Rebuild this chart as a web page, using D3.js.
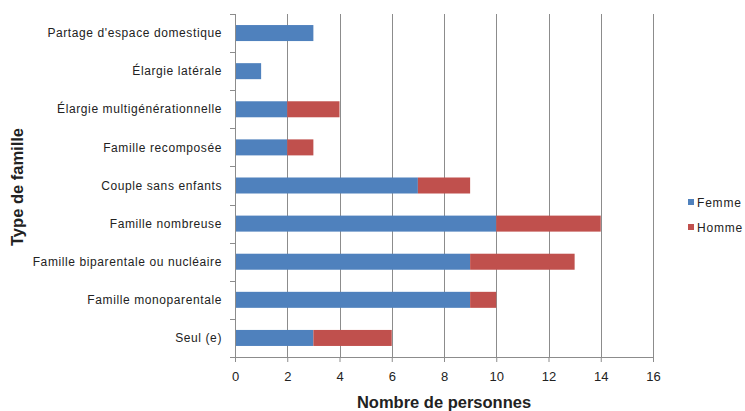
<!DOCTYPE html>
<html>
<head>
<meta charset="utf-8">
<script src="https://cdn.jsdelivr.net/npm/d3@7"></script>
<style>
  body { margin: 0; background: #fff; }
  .chart-holder text { font-family: "Liberation Sans", Arial, sans-serif; }
</style>
</head>
<body>
<div class="chart-holder"></div>
<script>
const width = 745, height = 411;

const categories = ["Partage d'espace domestique", "Élargie latérale", "Élargie multigénérationnelle",
  "Famille recomposée", "Couple sans enfants", "Famille nombreuse",
  "Famille biparentale ou nucléaire", "Famille monoparentale", "Seul (e)"];
const femme = [3, 1, 2, 2, 7, 10, 9, 9, 3];
const homme = [0, 0, 2, 1, 2, 4, 4, 1, 3];
const seriesNames = ["Femme", "Homme"];
const colors = ["#4F81BD", "#C0504D"];
const xTicks = [0, 2, 4, 6, 8, 10, 12, 14, 16];

const svg = d3.select('.chart-holder').append('svg').attr('width', width).attr('height', height);

const plotLeft = 235, plotRight = 653, plotTop = 14, plotBottom = 357;

const x = d3.scaleLinear().domain([0, 16]).range([plotLeft, plotRight]);
const y = d3.scaleBand().domain(categories).range([plotTop, plotBottom]).paddingInner(0.58).paddingOuter(0.29);

// grid lines
svg.append('g').selectAll('line')
  .data(xTicks.slice(1))
  .enter().append('line')
  .attr('x1', d => Math.round(x(d)) + 0.5).attr('x2', d => Math.round(x(d)) + 0.5)
  .attr('y1', plotTop).attr('y2', plotBottom)
  .attr('stroke', '#8c8c8c').attr('stroke-width', 1);

// stacked bars
const rows = categories.map((c, i) => ({ c, f: femme[i], h: homme[i] }));
const g = svg.append('g');
g.selectAll('rect.f').data(rows).enter().append('rect')
  .attr('x', x(0)).attr('y', d => y(d.c))
  .attr('width', d => x(d.f) - x(0)).attr('height', y.bandwidth())
  .attr('fill', colors[0]);
g.selectAll('rect.h').data(rows.filter(d => d.h > 0)).enter().append('rect')
  .attr('x', d => x(d.f)).attr('y', d => y(d.c))
  .attr('width', d => x(d.f + d.h) - x(d.f)).attr('height', y.bandwidth())
  .attr('fill', colors[1]);

// x axis
const xAxis = svg.append('g').attr('transform', `translate(0,${plotBottom})`)
  .call(d3.axisBottom(x).tickValues(xTicks).tickSize(5).tickSizeOuter(0));
xAxis.select('.domain').attr('stroke', '#8c8c8c');
xAxis.selectAll('.tick line').attr('stroke', '#8c8c8c');
xAxis.selectAll('.tick text').attr('dy', '1.25em').attr('font-size', 13)
  .attr('fill', '#222');

// y axis with ticks at band boundaries
svg.append('line').attr('x1', plotLeft + 0.5).attr('x2', plotLeft + 0.5).attr('y1', plotTop).attr('y2', plotBottom)
  .attr('stroke', '#8c8c8c');
svg.append('g').selectAll('line')
  .data(d3.range(categories.length + 1))
  .enter().append('line')
  .attr('x1', plotLeft - 5).attr('x2', plotLeft)
  .attr('y1', i => Math.round(plotTop + i * (plotBottom - plotTop) / categories.length) + 0.5)
  .attr('y2', i => Math.round(plotTop + i * (plotBottom - plotTop) / categories.length) + 0.5)
  .attr('stroke', '#8c8c8c');
svg.append('g').selectAll('text')
  .data(categories).enter().append('text')
  .attr('x', plotLeft - 13).attr('y', d => y(d) + y.bandwidth() / 2)
  .attr('dy', '0.35em').attr('text-anchor', 'end')
  .attr('font-size', 12).attr('letter-spacing', 0.6).attr('fill', '#222')
  .text(d => d);

// axis titles
svg.append('text').attr('x', 444).attr('y', 408)
  .attr('text-anchor', 'middle').attr('font-size', 16.5).attr('font-weight', 'bold').attr('fill', '#222')
  .text('Nombre de personnes');
svg.append('text').attr('transform', 'translate(23,187) rotate(-90)')
  .attr('text-anchor', 'middle').attr('font-size', 16.5).attr('font-weight', 'bold').attr('fill', '#222')
  .text('Type de famille');

// legend
const legend = svg.append('g').selectAll('g')
  .data(seriesNames).enter().append('g')
  .attr('transform', (d, i) => `translate(688,${203 + i * 25})`);
legend.append('rect').attr('x', 0).attr('y', -4).attr('width', 6).attr('height', 6)
  .attr('fill', (d, i) => colors[i]);
legend.append('text').attr('x', 9).attr('y', 0).attr('dy', '0.35em')
  .attr('font-size', 12).attr('letter-spacing', 0.8).attr('fill', '#222').text(d => d);
</script>
</body>
</html>
